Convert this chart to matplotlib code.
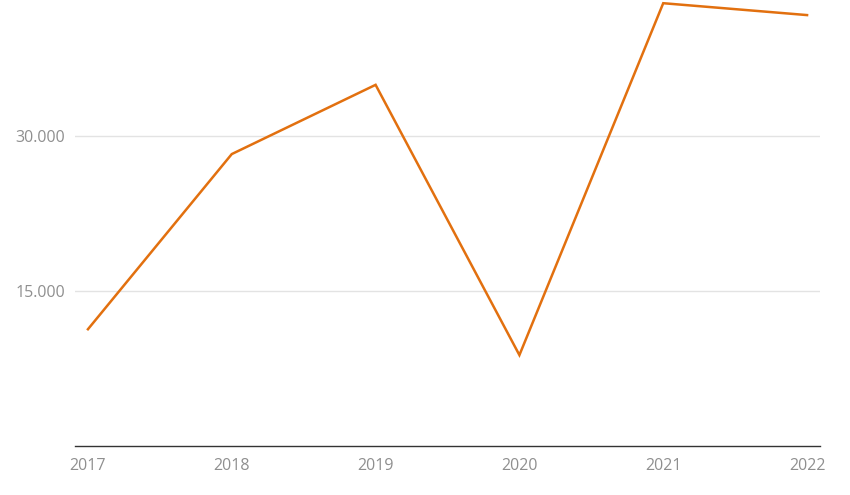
import matplotlib
matplotlib.use("Agg")
import matplotlib.pyplot as plt
from matplotlib.ticker import FuncFormatter

years = [2017, 2018, 2019, 2020, 2021, 2022]
values = [11300, 28250, 34950, 8800, 42850, 41700]
y_ticks = [15000, 30000]

plt.rcParams['font.family'] = ['Open Sans', 'DejaVu Sans']

fig = plt.figure(figsize=(8.5, 4.95), dpi=100)
ax = fig.add_axes([75 / 850, 49 / 495, 745 / 850, 446 / 495])

ax.plot(years, values, color='#E2700F', linewidth=1.8, clip_on=False,
        solid_joinstyle='miter', zorder=3)

ax.set_xlim(2016.91, 2022.09)
ax.set_ylim(0, 43160)
ax.set_xticks(years)
ax.set_yticks(y_ticks)
ax.yaxis.set_major_formatter(FuncFormatter(lambda v, _: f"{int(v):,}".replace(",", ".")))

ax.grid(axis='y', color='#e3e3e3', linewidth=1)
ax.set_axisbelow(True)
for side in ['top', 'right', 'left']:
    ax.spines[side].set_visible(False)
ax.spines['bottom'].set_color('#333333')
ax.spines['bottom'].set_linewidth(1)

ax.tick_params(axis='both', length=0, labelsize=11.5, labelcolor='#8f8f8f')
ax.tick_params(axis='x', pad=9)
ax.tick_params(axis='y', pad=7)

fig.savefig('out.png', dpi=100, facecolor='white')
